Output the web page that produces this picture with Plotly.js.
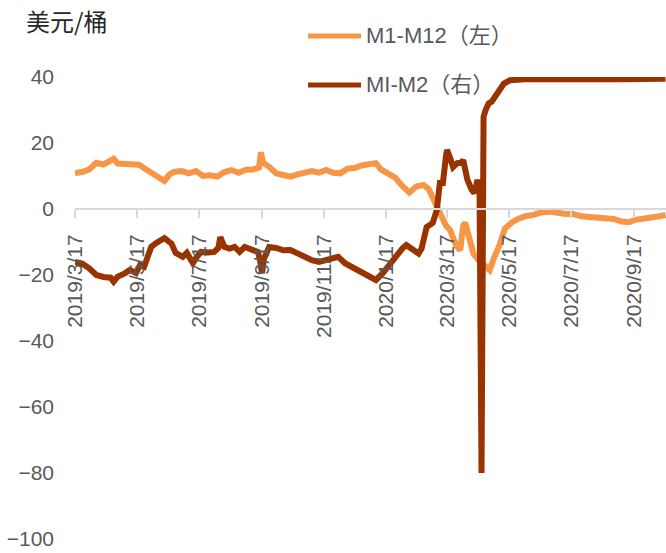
<!DOCTYPE html>
<html>
<head>
<meta charset="utf-8">
<script src="https://cdn.plot.ly/plotly-3.0.1.min.js"></script>
<style>
html,body{margin:0;padding:0;background:#fff;}
#chart{width:666px;height:553px;}
</style>
</head>
<body>
<div id="chart"></div>
<script>
// ---- data ----
const m112Dates = ['2019-03-17','2019-03-24','2019-03-31','2019-04-07','2019-04-14','2019-04-21','2019-04-24','2019-04-28','2019-05-05','2019-05-12','2019-05-19','2019-05-26','2019-06-02','2019-06-09','2019-06-13','2019-06-18','2019-06-23','2019-06-30','2019-07-07','2019-07-14','2019-07-21','2019-07-28','2019-08-04','2019-08-11','2019-08-18','2019-08-25','2019-09-01','2019-09-08','2019-09-14','2019-09-16','2019-09-18','2019-09-24','2019-10-01','2019-10-08','2019-10-15','2019-10-22','2019-10-29','2019-11-05','2019-11-12','2019-11-19','2019-11-26','2019-12-03','2019-12-10','2019-12-17','2019-12-24','2019-12-31','2020-01-07','2020-01-12','2020-01-19','2020-01-26','2020-02-02','2020-02-09','2020-02-16','2020-02-23','2020-02-28','2020-03-04','2020-03-10','2020-03-16','2020-03-20','2020-03-26','2020-03-30','2020-04-02','2020-04-04','2020-04-08','2020-04-12','2020-04-17','2020-04-21','2020-04-28','2020-05-02','2020-05-07','2020-05-13','2020-05-20','2020-05-26','2020-06-02','2020-06-10','2020-06-18','2020-06-26','2020-07-04','2020-07-12','2020-07-19','2020-07-27','2020-08-04','2020-08-12','2020-08-20','2020-08-28','2020-09-05','2020-09-12','2020-09-18','2020-09-26','2020-10-04','2020-10-12','2020-10-18'];
const m112Values = [10.9,11.2,12.0,14.0,13.5,14.5,15.2,13.8,13.6,13.2,13.4,12.0,10.5,9.5,8.5,10.5,11.3,11.5,10.8,11.5,10.0,10.2,9.8,11.2,11.8,11.0,11.9,12.0,12.5,17.2,14.0,12.8,10.8,10.3,9.8,10.5,10.8,11.5,11.0,11.8,11.0,10.8,12.2,12.4,13.2,13.5,13.9,12.0,11.0,9.5,7.0,5.0,6.8,7.3,6.0,2.7,-1.5,-5.0,-6.4,-11.0,-12.5,-5.0,-4.2,-9.5,-13.5,-15.5,-16.4,-18.5,-15.0,-11.5,-6.0,-4.0,-3.0,-2.2,-1.8,-1.0,-0.8,-1.3,-1.5,-1.5,-2.2,-2.4,-2.7,-2.6,-3.0,-3.8,-4.0,-3.3,-3.0,-2.8,-2.2,-1.8];

const mi2Dates = ['2019-03-17','2019-03-24','2019-03-31','2019-04-07','2019-04-14','2019-04-21','2019-04-24','2019-04-28','2019-05-05','2019-05-10','2019-05-16','2019-05-20','2019-05-24','2019-05-27','2019-05-31','2019-06-05','2019-06-10','2019-06-13','2019-06-17','2019-06-20','2019-06-24','2019-07-01','2019-07-05','2019-07-11','2019-07-15','2019-07-19','2019-07-26','2019-08-01','2019-08-05','2019-08-07','2019-08-11','2019-08-16','2019-08-21','2019-08-26','2019-08-31','2019-09-06','2019-09-13','2019-09-15','2019-09-17','2019-09-19','2019-09-24','2019-10-01','2019-10-08','2019-10-15','2019-10-22','2019-10-29','2019-11-05','2019-11-12','2019-11-19','2019-11-26','2019-12-01','2019-12-08','2019-12-15','2019-12-22','2019-12-29','2020-01-04','2020-01-07','2020-01-14','2020-01-21','2020-01-28','2020-02-02','2020-02-06','2020-02-12','2020-02-18','2020-02-21','2020-02-26','2020-03-03','2020-03-07','2020-03-10','2020-03-13','2020-03-16','2020-03-17','2020-03-20','2020-03-23','2020-03-27','2020-03-31','2020-04-02','2020-04-06','2020-04-10','2020-04-13','2020-04-16','2020-04-18','2020-04-20','2020-04-22','2020-04-24','2020-04-27','2020-04-30','2020-05-04','2020-05-08','2020-05-12','2020-05-18','2020-05-25','2020-06-05','2020-06-15','2020-06-25','2020-07-05','2020-07-15','2020-07-25','2020-08-05','2020-08-15','2020-08-25','2020-09-05','2020-09-15','2020-09-25','2020-10-05','2020-10-18'];
const mi2Values = [-16.0,-16.5,-18.0,-20.0,-20.6,-20.8,-22.0,-20.5,-19.5,-18.5,-19.4,-17.0,-17.5,-14.5,-11.5,-10.3,-9.5,-8.8,-9.8,-10.5,-13.3,-14.5,-13.3,-16.4,-14.5,-13.0,-13.2,-13.0,-11.8,-8.5,-11.5,-12.0,-11.5,-13.0,-11.5,-12.4,-13.0,-15.5,-19.4,-15.0,-11.5,-11.8,-12.5,-12.4,-13.5,-14.8,-15.5,-16.0,-15.5,-14.8,-14.5,-16.5,-17.6,-19.0,-20.0,-21.0,-21.5,-19.4,-16.4,-13.5,-12.0,-10.9,-12.4,-13.5,-12.0,-5.5,-4.2,-0.3,7.9,7.9,16.0,17.9,15.5,12.7,13.9,14.0,14.8,9.0,6.0,4.8,8.8,7.0,-80.0,28.0,30.0,32.0,32.5,34.5,36.5,38.0,39.0,39.3,39.4,39.3,39.5,39.4,39.3,39.4,39.3,39.4,39.4,39.3,39.4,39.4,39.5,39.5];

const tickDates = ['2019-03-17','2019-05-17','2019-07-17','2019-09-17','2019-11-17','2020-01-17','2020-03-17','2020-05-17','2020-07-17','2020-09-17'];
const tickLabels = ['2019/3/17','2019/5/17','2019/7/17','2019/9/17','2019/11/17','2020/1/17','2020/3/17','2020/5/17','2020/7/17','2020/9/17'];
const yTicks = [40,20,0,-20,-40,-60,-80,-100];
const seriesNames = ['M1-M12（左）','MI-M2（右）'];
const seriesColors = ['#F79646','#993300'];
const yTitle = '美元/桶';

// ---- chart ----
const W = 666, H = 553;
const mL = 75, mR = 0, mT = 77, mB = 14;
const plotW = W - mL - mR, plotH = H - mT - mB;
const yMin = -100, yMax = 40;
const font = '"Liberation Sans", Arial, "Noto Sans CJK SC", sans-serif';
const grey = '#595959';

const traces = [
  {x: m112Dates, y: m112Values, type: 'scatter', mode: 'lines', name: seriesNames[0],
   line: {color: seriesColors[0], width: 6}, showlegend: false, hoverinfo: 'x+y'},
  {x: mi2Dates, y: mi2Values, type: 'scatter', mode: 'lines', name: seriesNames[1],
   line: {color: seriesColors[1], width: 6}, showlegend: false, hoverinfo: 'x+y'}
];

// legend drawn in paper coordinates
function px2paperX(px){ return (px - mL) / plotW; }
function px2paperY(py){ return (H - mB - py) / plotH; }
const legendRows = [36, 85];
const shapes = [];
const annotations = [];
legendRows.forEach((py, i) => {
  shapes.push({type: 'line', xref: 'paper', yref: 'paper',
    x0: px2paperX(308), x1: px2paperX(361), y0: px2paperY(py), y1: px2paperY(py),
    line: {color: seriesColors[i], width: 5}});
  annotations.push({xref: 'paper', yref: 'paper', x: px2paperX(364), y: px2paperY(py),
    xanchor: 'left', yanchor: 'middle', showarrow: false, text: seriesNames[i],
    font: {family: font, size: 22, color: grey}});
});

const layout = {
  width: W, height: H,
  margin: {l: mL, r: mR, t: mT, b: mB, pad: 0},
  paper_bgcolor: '#fff', plot_bgcolor: '#fff',
  showlegend: false,
  title: {text: yTitle, xref: 'container', yref: 'container', x: 26 / W, xanchor: 'left',
    y: 1 - 23 / H, yanchor: 'middle',
    font: {family: '"Noto Sans CJK SC", sans-serif', size: 24, color: '#262626'}},
  xaxis: {
    type: 'date',
    range: ['2019-03-17', '2020-10-18 12:00'],
    anchor: 'free', position: (0 - yMin) / (yMax - yMin),
    showgrid: false, zeroline: false,
    showline: true, linecolor: '#D9D9D9', linewidth: 2,
    ticks: 'outside', ticklen: 8, tickwidth: 2, tickcolor: '#D9D9D9',
    tickmode: 'array', tickvals: tickDates, ticktext: tickLabels,
    tickangle: -90, ticklabelstandoff: 8,
    tickfont: {family: font, size: 21, color: grey}
  },
  yaxis: {
    range: [yMin, yMax], domain: [0, 1],
    showgrid: false, zeroline: false, showline: false,
    ticks: '', tickmode: 'array', tickvals: yTicks,
    ticklabelstandoff: 20,
    tickfont: {family: font, size: 21, color: grey}
  },
  shapes: shapes,
  annotations: annotations
};

Plotly.newPlot('chart', traces, layout, {displayModeBar: false, responsive: false});
</script>
</body>
</html>
